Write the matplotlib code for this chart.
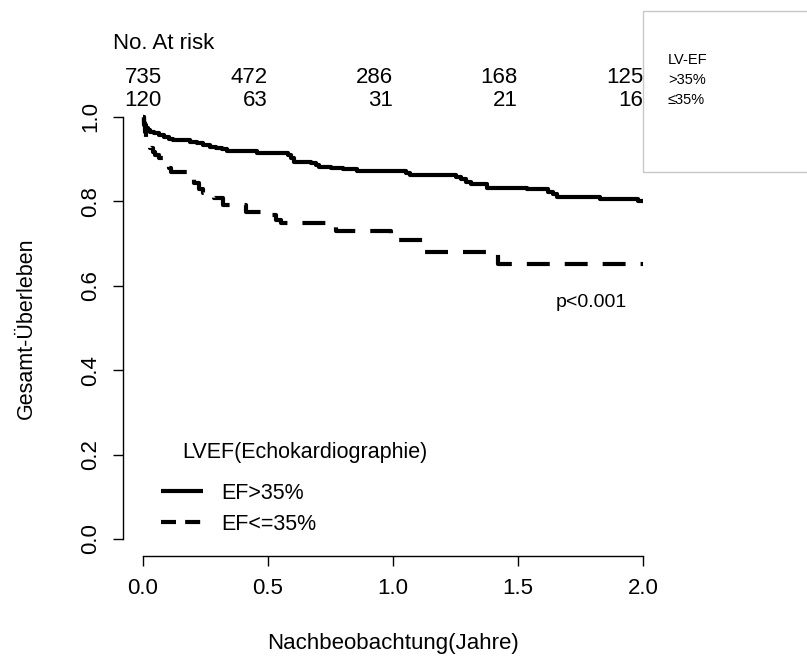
import numpy as np
import matplotlib.pyplot as plt
from matplotlib.lines import Line2D
from matplotlib.patches import Rectangle
from matplotlib.transforms import offset_copy

plt.rcParams['font.family'] = ['Liberation Sans', 'DejaVu Sans']

# -- Kaplan-Meier step data (years, survival) --
t_hi = [0, 0.002, 0.005, 0.008, 0.012, 0.018, 0.028, 0.045, 0.065, 0.085,
        0.105, 0.121, 0.188, 0.215, 0.240, 0.268, 0.290, 0.315, 0.335, 0.455,
        0.580, 0.592, 0.605, 0.672, 0.690, 0.702, 0.750, 0.800, 0.855, 1.050,
        1.068, 1.250, 1.270, 1.290, 1.310, 1.375, 1.535, 1.620, 1.640, 1.655,
        1.828, 1.980, 2.0]
s_hi = [1.0, 0.994, 0.986, 0.980, 0.974, 0.968, 0.964, 0.961, 0.957, 0.952,
        0.949, 0.945, 0.941, 0.938, 0.934, 0.930, 0.927, 0.923, 0.919, 0.915,
        0.909, 0.902, 0.894, 0.890, 0.886, 0.882, 0.880, 0.877, 0.873, 0.867,
        0.862, 0.857, 0.852, 0.846, 0.841, 0.832, 0.830, 0.823, 0.817, 0.811,
        0.806, 0.800, 0.800]

t_lo = [0, 0.003, 0.007, 0.011, 0.015, 0.027, 0.038, 0.048, 0.062, 0.078,
        0.092, 0.104, 0.113, 0.186, 0.196, 0.205, 0.222, 0.240, 0.262, 0.285,
        0.318, 0.412, 0.503, 0.530, 0.552, 0.772, 0.990, 1.020, 1.125, 1.421,
        2.0]
s_lo = [1.0, 0.980, 0.964, 0.950, 0.934, 0.927, 0.918, 0.910, 0.903, 0.894,
        0.886, 0.878, 0.869, 0.861, 0.853, 0.844, 0.830, 0.821, 0.814, 0.807,
        0.791, 0.774, 0.768, 0.755, 0.748, 0.731, 0.723, 0.709, 0.680, 0.651,
        0.651]

# -- Number at risk --
risk_times = [0, 0.5, 1.0, 1.5, 2.0]
risk_hi = [735, 472, 286, 168, 125]
risk_lo = [120, 63, 31, 21, 16]

groups = ['EF>35%', 'EF<=35%']
W, H = 807, 662


def fx(px):  # pixel -> figure fraction
    return px / W


def fy(py):
    return 1 - py / H


fig = plt.figure(figsize=(W / 100, H / 100), dpi=100)
ax = fig.add_axes([fx(123), fy(555.9), 540 / W, 455.8 / H])
ax.set_xlim(-0.08, 2.08)
ax.set_ylim(-0.04, 1.04)

ax.step(t_hi, s_hi, where='post', color='black', lw=3, solid_capstyle='butt')
ax.step(t_lo, s_lo, where='post', color='black', lw=3, dashes=(5.5, 3.6),
        dash_capstyle='butt')

# -- R-style axes: only the tick range is drawn --
for side in ['top', 'right']:
    ax.spines[side].set_visible(False)
ax.spines['bottom'].set_bounds(0, 2)
ax.spines['left'].set_bounds(0, 1)
for side in ['bottom', 'left']:
    ax.spines[side].set_linewidth(1)
ax.set_xticks([0, 0.5, 1.0, 1.5, 2.0])
ax.set_xticklabels(['0.0', '0.5', '1.0', '1.5', '2.0'])
ax.set_yticks([0, 0.2, 0.4, 0.6, 0.8, 1.0])
ax.set_yticklabels(['0.0', '0.2', '0.4', '0.6', '0.8', '1.0'])
ax.tick_params(direction='out', length=7.5, width=1, labelsize=16, pad=8.4)
plt.setp(ax.get_yticklabels(), rotation=90, va='center')

ax.set_xlabel('Nachbeobachtung(Jahre)', fontsize=16, va='top')
ax.xaxis.set_label_coords(0.5, -0.17)
ax.set_ylabel('Gesamt-Überleben', fontsize=15.5)
ax.yaxis.set_label_coords(-0.16, 0.5)

# -- number at risk table above the plot --
xtr = ax.get_xaxis_transform()
ax.text(-0.12, 1.1128, 'No. At risk', transform=xtr, fontsize=16,
        ha='left', va='baseline')
for i, t in enumerate(risk_times):
    tr = offset_copy(xtr, fig=fig, x=19, units='dots') if i == 0 else xtr
    ax.text(t, 1.0375, str(risk_hi[i]), transform=tr, fontsize=16,
            ha='right', va='baseline', clip_on=False)
    ax.text(t, 0.987, str(risk_lo[i]), transform=tr, fontsize=16,
            ha='right', va='baseline', clip_on=False)

ax.text(1.792, 0.55, 'p<0.001', fontsize=14, ha='center', va='baseline')

# -- legend --
handles = [Line2D([], [], color='black', lw=3, solid_capstyle='butt'),
           Line2D([], [], color='black', lw=3, dashes=(3.6, 2.2),
                  dash_capstyle='butt')]
ax.legend(handles, groups, loc='upper left', frameon=False, fontsize=15.5,
          bbox_to_anchor=(fx(161), fy(483)), bbox_transform=fig.transFigure,
          borderpad=0, borderaxespad=0, handlelength=1.95,
          handletextpad=0.85, labelspacing=0.45)
fig.text(fx(182), fy(458), 'LVEF(Echokardiographie)', fontsize=15.5,
         ha='left', va='baseline')

# -- extra box in the top right corner --
fig.patches.append(Rectangle((fx(643), fy(171.5)), fx(200), 160.8 / H,
                             transform=fig.transFigure, facecolor='white',
                             edgecolor='#c8c8c8', lw=1))
for txt, yb in zip(['LV-EF', '>35%', '≤35%'], [63.5, 84, 104]):
    fig.text(fx(668), fy(yb), txt, fontsize=10.5, ha='left', va='baseline')

plt.savefig('out.png', dpi=100)
